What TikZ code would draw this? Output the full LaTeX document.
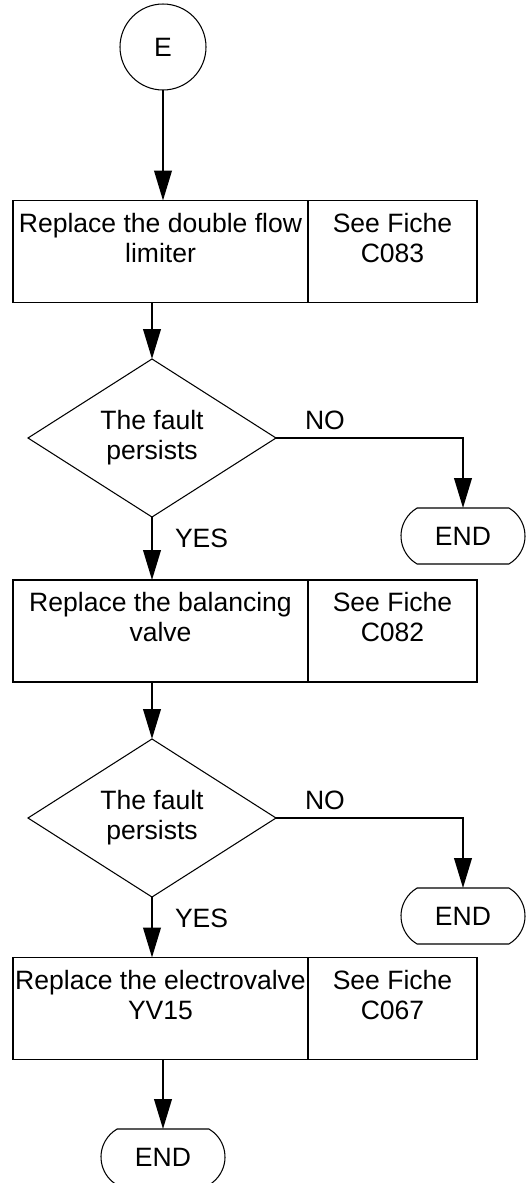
\documentclass[tikz,border=0pt]{standalone}
\usepackage{fontspec}
\setmainfont{Liberation Sans}
\usetikzlibrary{arrows.meta,positioning,shapes.geometric,shapes.misc}

\begin{document}
\begin{tikzpicture}[x=1cm,y=1cm,
    every node/.style={font=\fontsize{15.1}{17.1}\selectfont,inner sep=0pt,outer sep=0pt},
    cell/.style={draw,line width=1.1pt,minimum height=2.04cm},
    celltxt/.style={align=center},
    decision/.style={draw,diamond,line width=0.6pt,minimum width=4.96cm,minimum height=3.06cm,align=center},
    terminal/.style={draw,rounded rectangle,rounded rectangle arc length=120,line width=0.6pt,
      minimum width=2.48cm,minimum height=1.12cm},
    startnode/.style={draw,circle,line width=0.6pt,minimum size=1.72cm},
    flow/.style={-{Triangle[length=17pt,width=10pt]},line width=1.1pt},
    lbl/.style={}]
  \useasboundingbox (0,0) rectangle (10.5,-23.66);

  \node[startnode] (e) at (3.26,-0.94) {E};

  % first repair
  \node[cell,minimum width=5.9cm] (b1l) at (3.21,-5.03) {};
  \node[cell,minimum width=3.38cm,right=0pt of b1l] (b1r) {};
  \node[celltxt,below=0.25cm of b1l.north] (t1l) {Replace the double flow\\limiter};
  \node[celltxt,below=0.25cm of b1r.north] (t1r) {See Fiche\\C083};

  \node[decision] (d1) at (3.04,-8.76) {The fault\\persists};
  \node[terminal] (n1) at (9.26,-10.72) {END};
  \node[lbl,above right=0.16cm and 0.58cm of d1.east] (no1) {NO};
  \node[lbl,below right=0.24cm and 0.46cm of d1.south] (yes1) {YES};

  % second repair
  \node[cell,minimum width=5.9cm] (b2l) at (3.21,-12.62) {};
  \node[cell,minimum width=3.38cm,right=0pt of b2l] (b2r) {};
  \node[celltxt,below=0.25cm of b2l.north] (t2l) {Replace the balancing\\valve};
  \node[celltxt,below=0.25cm of b2r.north] (t2r) {See Fiche\\C082};

  \node[decision] (d2) at (3.04,-16.36) {The fault\\persists};
  \node[terminal] (n2) at (9.26,-18.32) {END};
  \node[lbl,above right=0.16cm and 0.58cm of d2.east] (no2) {NO};
  \node[lbl,below right=0.24cm and 0.46cm of d2.south] (yes2) {YES};

  % third repair
  \node[cell,minimum width=5.9cm] (b3l) at (3.21,-20.17) {};
  \node[cell,minimum width=3.38cm,right=0pt of b3l] (b3r) {};
  \node[celltxt,below=0.25cm of b3l.north] (t3l) {Replace the electrovalve\\YV15};
  \node[celltxt,below=0.25cm of b3r.north] (t3r) {See Fiche\\C067};

  \node[terminal] (n3) at (3.26,-23.14) {END};

  % connectors
  \draw[flow] (e) -- (e |- b1l.north);
  \draw[flow] (d1 |- b1l.south) -- (d1.north);
  \draw[flow] (d1.east) -| (n1.north);
  \draw[flow] (d1.south) -- (d1 |- b2l.north);
  \draw[flow] (d2 |- b2l.south) -- (d2.north);
  \draw[flow] (d2.east) -| (n2.north);
  \draw[flow] (d2.south) -- (d2 |- b3l.north);
  \draw[flow] (n3 |- b3l.south) -- (n3.north);
\end{tikzpicture}
\end{document}
